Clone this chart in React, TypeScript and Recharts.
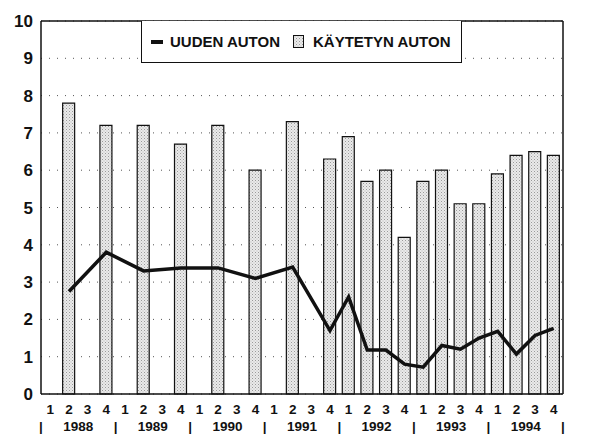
import { Bar, ComposedChart, XAxis, YAxis, Line, CartesianGrid, ReferenceLine } from "recharts";

const years = ["1988", "1989", "1990", "1991", "1992", "1993", "1994"];
const quarters = [1, 2, 3, 4];

// käytetyn auton korko, by quarter (null = no bar)
const usedCar = [
  null, 7.8, null, 7.2,
  null, 7.2, null, 6.7,
  null, 7.2, null, 6.0,
  null, 7.3, null, 6.3,
  6.9, 5.7, 6.0, 4.2,
  5.7, 6.0, 5.1, 5.1,
  5.9, 6.4, 6.5, 6.4,
];

// uuden auton korko
const newCar = [
  null, 2.75, null, 3.8,
  null, 3.3, null, 3.38,
  null, 3.38, null, 3.1,
  null, 3.4, null, 1.7,
  2.6, 1.18, 1.18, 0.8,
  0.72, 1.3, 1.2, 1.5,
  1.68, 1.07, 1.57, 1.76,
];

const yTicks = [0, 1, 2, 3, 4, 5, 6, 7, 8, 9, 10];

const data = usedCar.map((v, i) => ({
  key: i,
  year: years[Math.floor(i / 4)],
  q: quarters[i % 4],
  used: v,
  uusi: newCar[i],
}));

const font = "Arial, 'Liberation Sans', sans-serif";
const band = 522 / 28;

function QuarterTick({ x, y, payload }: any) {
  const d = data[payload.value];
  if (!d) return null;
  const base = { textAnchor: "middle" as const, fontSize: 13.5, fontWeight: "bold", fontFamily: font, fill: "#111" };
  return (
    <g>
      <text x={x} y={y + 12} {...base}>
        {d.q}
      </text>
      {d.q === 1 && (
        <text x={x - band / 2} y={y + 29} {...base}>
          |
        </text>
      )}
      {d.q === 2 && (
        <text x={x + band / 2} y={y + 29} {...base}>
          {d.year}
        </text>
      )}
      {payload.value === data.length - 1 && (
        <text x={x + band / 2} y={y + 29} {...base}>
          |
        </text>
      )}
    </g>
  );
}

function LegendBox() {
  const txt = { position: "absolute" as const, top: 12, lineHeight: "17px", whiteSpace: "nowrap" as const };
  return (
    <div
      style={{
        position: "absolute",
        left: 141,
        top: 21,
        width: 321,
        height: 42,
        border: "1.5px solid #111",
        borderTop: "none",
        background: "#fff",
        fontFamily: font,
        fontWeight: "bold",
        fontSize: 15,
        color: "#111",
        boxSizing: "border-box",
      }}
    >
      <span style={{ position: "absolute", left: 9, top: 19, width: 12, height: 4, background: "#111" }} />
      <span style={{ ...txt, left: 28 }}>UUDEN AUTON</span>
      <svg width={11} height={13} style={{ position: "absolute", left: 151, top: 14 }}>
        <rect x={0.5} y={0.5} width={10} height={12} fill="url(#dots)" stroke="#111" />
      </svg>
      <span style={{ ...txt, left: 171 }}>KÄYTETYN AUTON</span>
    </div>
  );
}

export default function App() {
  return (
    <div style={{ position: "absolute", left: 0, top: 0, width: 602, height: 435, background: "#fff" }}>
      <svg width={0} height={0} style={{ position: "absolute" }}>
        <defs>
          <pattern id="dots" width={3} height={3} patternUnits="userSpaceOnUse">
            <rect width={3} height={3} fill="#eaeaea" />
            <rect x={0} y={0} width={1} height={1} fill="#9a9a9a" />
            <rect x={1.5} y={1.5} width={1} height={1} fill="#b8b8b8" />
          </pattern>
        </defs>
      </svg>
      <ComposedChart width={602} height={435} data={data} margin={{ top: 21, right: 0, bottom: 0, left: 0 }}>
        <CartesianGrid vertical={false} stroke="#555" strokeDasharray="1 7" yAxisId="left" />
        <XAxis
          dataKey="key"
          type="category"
          height={41}
          tickLine={false}
          axisLine={{ stroke: "#111", strokeWidth: 1.5 }}
          tick={<QuarterTick />}
          interval={0}
        />
        <YAxis
          yAxisId="left"
          domain={[0, 10]}
          ticks={yTicks}
          width={41}
          tickLine={false}
          axisLine={{ stroke: "#111", strokeWidth: 1.5 }}
          tick={{ fontSize: 17, fontWeight: "bold", fontFamily: font, fill: "#111" }}
          interval={0}
        />
        <YAxis
          yAxisId="right"
          orientation="right"
          domain={[0, 10]}
          ticks={yTicks}
          width={39}
          tickLine={false}
          tickMargin={0}
          axisLine={{ stroke: "#111", strokeWidth: 1.5 }}
          tick={{ fontSize: 17, fontWeight: "bold", fontFamily: font, fill: "#111", textAnchor: "start" }}
          interval={0}
        />
        <ReferenceLine y={10} yAxisId="left" stroke="#111" strokeWidth={1.5} />
        <Bar
          yAxisId="left"
          dataKey="used"
          name="KÄYTETYN AUTON"
          barSize={12}
          fill="url(#dots)"
          stroke="#111"
          strokeWidth={1.2}
          isAnimationActive={false}
        />
        <Line
          yAxisId="left"
          dataKey="uusi"
          name="UUDEN AUTON"
          stroke="#111"
          strokeWidth={3.5}
          dot={false}
          activeDot={false}
          connectNulls
          strokeLinejoin="miter"
          isAnimationActive={false}
        />
      </ComposedChart>
      <LegendBox />
    </div>
  );
}
